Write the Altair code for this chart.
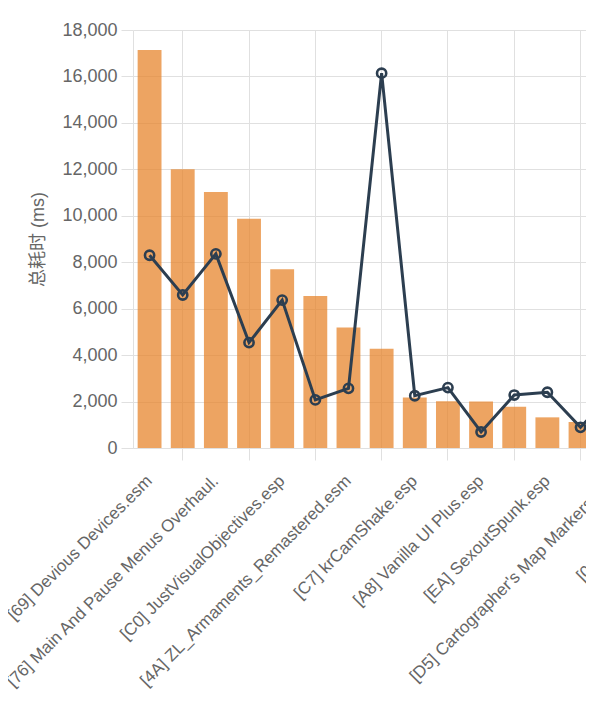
import json
import altair as alt
import pandas as pd

plugins = [
    "[69] Devious Devices.esm",
    "[3F] plugin_02.esp",
    "[76] Main And Pause Menus Overhaul.",
    "[1A] plugin_04.esp",
    "[C0] JustVisualObjectives.esp",
    "[5B] plugin_06.esp",
    "[4A] ZL_Armaments_Remastered.esm",
    "[2E] plugin_08.esp",
    "[C7] krCamShake.esp",
    "[9D] plugin_10.esp",
    "[A8] Vanilla UI Plus.esp",
    "[B3] plugin_12.esp",
    "[EA] SexoutSpunk.esp",
    "[8C] plugin_14.esp",
    "[D5] Cartographer's Map Markers.esp",
    "[7E] plugin_16.esp",
    "[0C] plugin_17.esp",
]
total_ms = [17140, 12000, 11020, 9870, 7700, 6550, 5190, 4270, 2170, 2010,
            2000, 1780, 1320, 1120, 1080, 1000, 950]
line_ms = [8300, 6590, 8360, 4540, 6370, 2070, 2570, 16140, 2250, 2600,
           690, 2280, 2400, 890, 2450, 1500, 1200]
y_ticks = [0, 2000, 4000, 6000, 8000, 10000, 12000, 14000, 16000, 18000]

df = pd.DataFrame({"plugin": plugins, "total": total_ms, "other": line_ms})

label_set = plugins[0::2]
grid_set = plugins[1::2]

FONT = "Liberation Sans, Noto Sans CJK SC, sans-serif"
GRID = "#e0e0e0"
TXT = "#666666"
STEP = 33.15

grid_test = f"indexof({json.dumps(grid_set)}, datum.value) >= 0"
label_expr = f"indexof({json.dumps(label_set)}, datum.value) >= 0 ? datum.value : ''"

x = alt.X(
    "plugin:N",
    sort=plugins,
    title=None,
    scale=alt.Scale(range=[0, STEP * len(plugins)], paddingInner=0.28, paddingOuter=0.14),
    axis=alt.Axis(
        labelAngle=-45,
        labelAlign="right",
        labelBaseline="middle",
        labelFontSize=17,
        labelFont=FONT,
        labelColor=TXT,
        labelPadding=18,
        labelLimit=500,
        labelOverlap=False,
        labelExpr=label_expr,
        bandPosition=0.5,
        grid=True,
        gridColor=GRID,
        gridOpacity={"condition": {"test": grid_test, "value": 1}, "value": 0},
        ticks=True,
        tickSize=12,
        tickColor=GRID,
        tickOpacity={"condition": {"test": grid_test, "value": 1}, "value": 0},
        domainColor=GRID,
    ),
)

y_axis = alt.Axis(
    title="总耗时 (ms)",
    titleFont=FONT,
    titleFontSize=18,
    titleFontWeight="normal",
    titleColor=TXT,
    titlePadding=14,
    labelFont=FONT,
    labelFontSize=18,
    labelColor=TXT,
    labelPadding=4,
    values=y_ticks,
    format=",d",
    ticks=True,
    tickSize=12,
    tickColor=GRID,
    gridColor=GRID,
    domainColor=GRID,
)
y_scale = alt.Scale(domain=[0, 18000], nice=False)

base = alt.Chart(df)

bars = base.mark_bar(color="#e7862e", opacity=0.75).encode(
    x=x,
    y=alt.Y("total:Q", scale=y_scale, axis=y_axis),
)

line = base.mark_line(color="#2c3e50", strokeWidth=3).encode(
    x=alt.X("plugin:N", sort=plugins),
    y=alt.Y("other:Q", scale=y_scale),
)

points = base.mark_point(
    shape="circle", filled=False, size=85, strokeWidth=2.6, color="#2c3e50", opacity=1
).encode(
    x=alt.X("plugin:N", sort=plugins),
    y=alt.Y("other:Q", scale=y_scale),
)

chart = alt.layer(bars, line, points).properties(
    width=453,
    height=418,
    autosize=alt.AutoSizeParams(type="none"),
    padding={"left": 125, "top": 22, "right": 0, "bottom": 270},
).configure_view(stroke=None)

chart.save("out.html", embed_options={"renderer": "svg", "actions": False})
